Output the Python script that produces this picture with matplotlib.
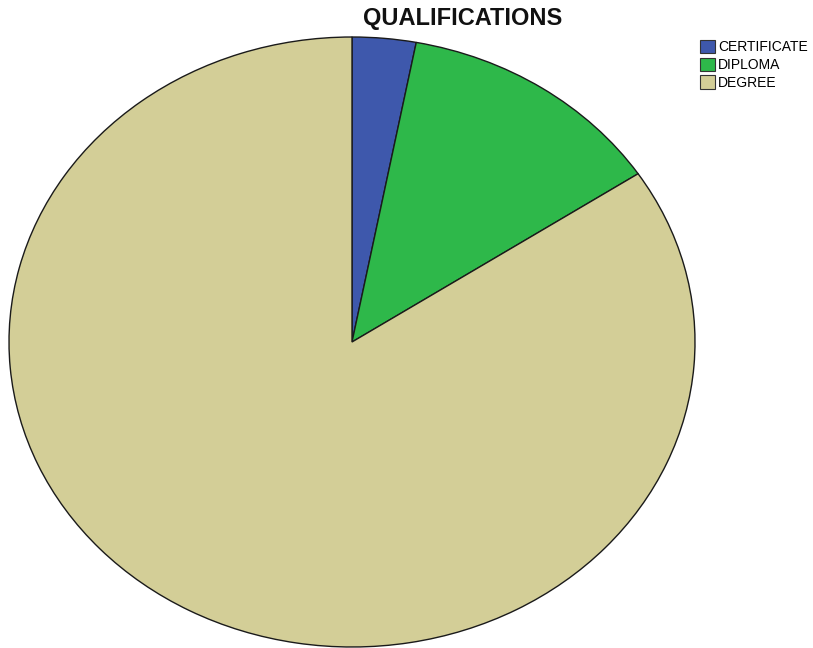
import matplotlib.pyplot as plt
from matplotlib.patches import Patch

labels = ["CERTIFICATE", "DIPLOMA", "DEGREE"]
percent = [3.0, 12.7, 84.3]
colors = ["#3E58AC", "#2EB84A", "#D3CE97"]

plt.rcParams["font.family"] = ["Liberation Sans", "DejaVu Sans"]

fig = plt.figure(figsize=(8.13, 6.48), dpi=100)
ax = fig.add_axes([9 / 813, 1 / 648, 686 / 813, 610 / 648])
ax.pie(percent, colors=colors, startangle=90, counterclock=False,
       wedgeprops=dict(edgecolor="#1a1a1a", linewidth=1.0))
ax.set_aspect("auto")
ax.set_xlim(-1.0, 1.0)
ax.set_ylim(-1.0, 1.0)
ax.axis("off")

fig.text(463 / 813, 1 - 18 / 648, "QUALIFICATIONS", ha="center", va="center",
         fontsize=17, fontweight="bold", color="#111111")

handles = [Patch(facecolor=c, edgecolor="#333333", linewidth=0.8) for c in colors]
fig.legend(handles, labels, loc="upper left", bbox_to_anchor=(690 / 813, 1 - 30 / 648),
           frameon=False, fontsize=10, handlelength=1.1, handleheight=1.1,
           handletextpad=0.2, labelspacing=0.25, borderpad=0.2)

fig.savefig("out.png", dpi=100)
